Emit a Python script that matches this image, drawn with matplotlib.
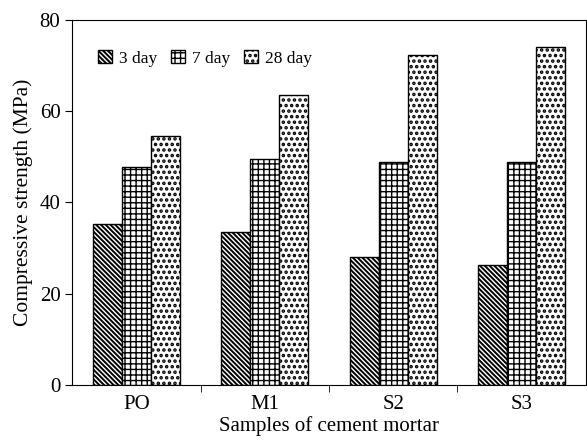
import numpy as np
import matplotlib
matplotlib.use("Agg")
import matplotlib.pyplot as plt

samples = ["PO", "M1", "S2", "S3"]
ages = ["3 day", "7 day", "28 day"]
day3 = [35.3, 33.5, 28.1, 26.4]
day7 = [47.8, 49.5, 48.9, 48.9]
day28 = [54.6, 63.5, 72.3, 74.1]

plt.rcParams['font.family'] = ['Liberation Serif', 'DejaVu Serif']

fig = plt.figure(figsize=(5.87, 4.46), dpi=100)
ax = fig.add_axes([0.123, 0.137, 0.875, 0.818])

x = np.arange(len(samples))
w = 0.225
hatches = ['\\\\\\\\\\\\\\', '+++', '...']
hatch_lw = [1.4, 1.0, 1.7]
for i, (vals, lab, h) in enumerate(zip([day3, day7, day28], ages, hatches)):
    with plt.rc_context({'hatch.linewidth': hatch_lw[i]}):
        bars = ax.bar(x + (i - 1) * w, vals, w, label=lab, color='white',
                      edgecolor='black', hatch=h, linewidth=1.0)
        for b in bars:
            if hasattr(b, 'set_hatch_linewidth'):
                b.set_hatch_linewidth(hatch_lw[i])

ax.set_xlim(-0.5, 3.5)
ax.set_ylim(0, 80)
ax.set_yticks([0, 20, 40, 60, 80])
ax.set_xticks(x)
ax.set_xticklabels(samples)
ax.set_xticks([0.5, 1.5, 2.5], minor=True)
ax.tick_params(axis='x', which='major', length=0, labelsize=15, pad=7)
ax.tick_params(axis='x', which='minor', length=5, direction='out')
ax.tick_params(axis='y', labelsize=15, direction='out', length=5)
ax.set_xlabel("Samples of cement mortar", fontsize=15, labelpad=2)
ax.set_ylabel("Compressive strength (MPa)", fontsize=15.5, labelpad=5)

leg = ax.legend(loc='center left', bbox_to_anchor=(0.02, 0.895), ncol=3, frameon=False,
                fontsize=12.5, handlelength=0.8, handleheight=0.8, columnspacing=0.8,
                handletextpad=0.4)
for p, lw in zip(leg.get_patches(), hatch_lw):
    if hasattr(p, 'set_hatch_linewidth'):
        p.set_hatch_linewidth(lw)

fig.savefig("out.png", dpi=100)
